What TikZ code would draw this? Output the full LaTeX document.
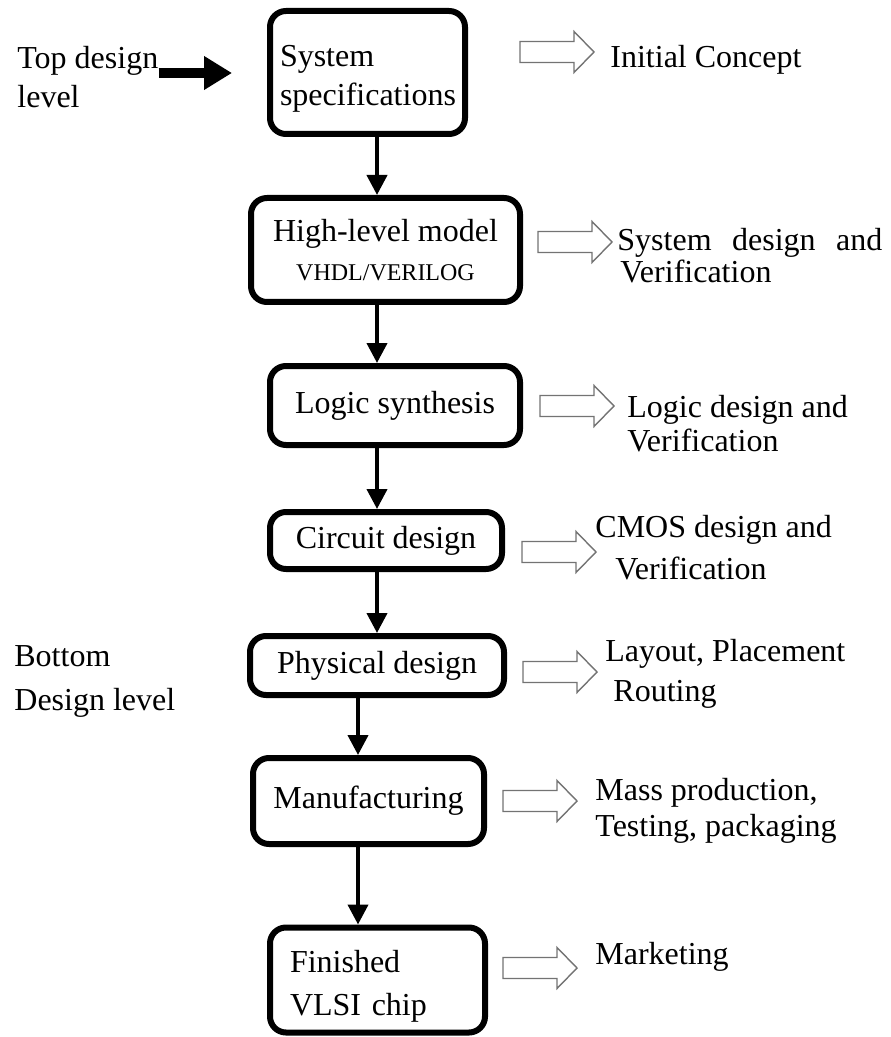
\documentclass[tikz,border=0pt]{standalone}
\usepackage{fontspec}
\setmainfont{Liberation Serif}
\usetikzlibrary{arrows.meta}

\begin{document}
\begin{tikzpicture}[x=0.5pt, y=-0.5pt,
  every node/.style={font=\fontsize{16}{19.5}\selectfont},
  stage/.style={draw, line width=3pt, rounded corners=8pt, fill=white, inner sep=0pt, align=center},
  note/.style={anchor=west, inner sep=0pt, align=left},
  lvl/.style={anchor=west, inner sep=0pt, align=left},
  flow/.style={line width=2pt, -{Triangle[length=10pt, width=10pt]}},
  fatarrow/.style={line width=5pt, -{Triangle[length=14pt, width=16pt]}},
  hollow/.pic={\draw[black!55, line width=0.7pt, fill=white] (0,-10.5) -- (54,-10.5) -- (54,-20.5) -- (74,0) -- (54,20.5) -- (54,10.5) -- (0,10.5) -- cycle;}]
  \useasboundingbox (0,0) rectangle (890,1037);
  \node[stage, minimum width=97.5pt, minimum height=61.5pt, text width=87.5pt, inner xsep=5pt, align=left] (spec) at (367.5,72.5) {\rule{0pt}{17pt}System\\specifications};
  \node[stage, minimum width=134.5pt, minimum height=52pt] (hlm) at (385.5,250) {High-level model\\{\fontsize{12}{12}\selectfont VHDL/VERILOG}};
  \node[stage, minimum width=125pt, minimum height=39.5pt] (logic) at (395,405.5) {Logic synthesis};
  \node[stage, minimum width=116pt, minimum height=28.5pt] (circuit) at (386,540.5) {Circuit design};
  \node[stage, minimum width=127pt, minimum height=29.5pt] (phys) at (377,665.5) {Physical design};
  \node[stage, minimum width=115.5pt, minimum height=43pt] (manuf) at (368.5,801) {Manufacturing};
  \node[stage, minimum width=107.5pt, minimum height=52.5pt, text width=87.5pt, inner xsep=10pt, align=left, font=\fontsize{16}{21.5}\selectfont] (chip) at (377.5,980) {\rule{0pt}{17pt}Finished\\VLSI chip};
  \coordinate (colA) at (377,0);
  \coordinate (colB) at (358,0);
  \draw[flow] (spec.south -| colA) -- (hlm.north -| colA);
  \draw[flow] (hlm.south -| colA) -- (logic.north -| colA);
  \draw[flow] (logic.south -| colA) -- (circuit.north -| colA);
  \draw[flow] (circuit.south -| colA) -- (phys.north -| colA);
  \draw[flow] (phys.south -| colB) -- (manuf.north -| colB);
  \draw[flow] (manuf.south -| colB) -- (chip.north -| colB);
  \node[lvl] (toplvl) at (17,77) {Top design\\level};
  \node[lvl, font=\fontsize{16}{22}\selectfont] (botlvl) at (14,681) {Bottom\\Design level};
  \coordinate (topin) at (232,73);
  \draw[fatarrow] (toplvl.east |- topin) -- (topin);
  \pic at (520,52) {hollow};
  \pic at (538,242) {hollow};
  \pic at (540,406) {hollow};
  \pic at (522,552) {hollow};
  \pic at (523,672) {hollow};
  \pic at (503,801) {hollow};
  \pic at (503,968) {hollow};
  \node[note] (initial) at (610,60) {Initial Concept};
  \node[note, font=\fontsize{16}{16}\selectfont] (sysver) at (617,256) {\makebox[132.5pt][s]{System design and}\\\hspace*{1.5pt}Verification};
  \node[note, font=\fontsize{16}{17}\selectfont] (logver) at (627,424) {Logic design and\\Verification};
  \node[note, font=\fontsize{16}{21}\selectfont] (cmosver) at (595,548) {CMOS design and\\\hspace*{10pt}Verification};
  \node[note, font=\fontsize{16}{20}\selectfont] (layout) at (605,674) {Layout, Placement\\\hspace*{4pt}Routing};
  \node[note, font=\fontsize{16}{18}\selectfont] (massprod) at (595,811) {Mass production,\\Testing, packaging};
  \node[note] (market) at (595,957) {Marketing};
\end{tikzpicture}
\end{document}
